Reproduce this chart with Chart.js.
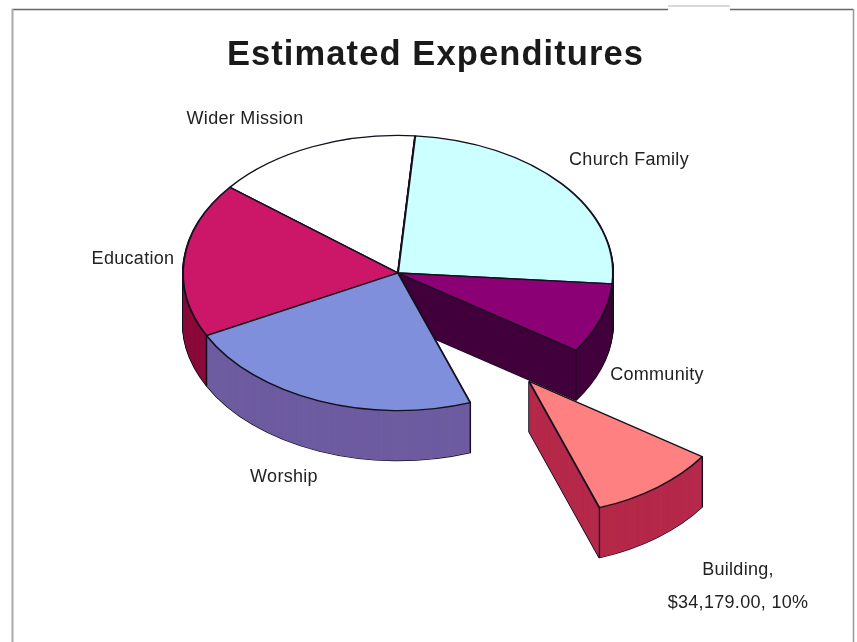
<!DOCTYPE html>
<html>
<head>
<meta charset="utf-8">
<style>html,body{margin:0;padding:0;background:#fff}canvas{display:block}</style>
<script src="https://cdn.jsdelivr.net/npm/chart.js@4"></script>
</head>
<body>
<canvas id="c" width="857" height="642"></canvas>
<script>
const titleText = "Estimated Expenditures";
const categories = ["Church Family", "Community", "Building", "Worship", "Education", "Wider Mission"];
const values = [85000, 28000, 34179, 78000, 62000, 53000];
const topColors = ["#CCFFFF", "#8B0074", "#FF8080", "#7F8FDB", "#CC1668", "#FFFFFF"];
const sideColors = ["#99BFBF", "#42003C", "#B5294A", "#6E5CA0", "#8A0A3A", "#BFBFBF"];
const labelLines = [["Church Family"], ["Community"], ["Building,", "$34,179.00, 10%"], ["Worship"], ["Education"], ["Wider Mission"]];
const explodedPx = [0, 0, 214, 0, 0, 0];
const sliceScale = [1, 1, 0.975, 1, 1, 1];

const CX = 398, CY = 273, TILT = 0.64, DEPTH = 50, OUTLINE = "#15101e";
const labelAnchors = [[629, 160], [657, 375], [738, 570], [284, 477], [133, 259], [245, 119]];

const pie3d = {
  id: "pie3d",
  beforeDraw(chart) { chart.ctx.letterSpacing = "1.1px"; },
  beforeDatasetsDraw(chart) {
    const ctx = chart.ctx;
    const arcs = chart.getDatasetMeta(0).data;
    const order = arcs.map((a, i) => i).sort((p, q) => {
      const mid = i => (arcs[i].startAngle + arcs[i].endAngle) / 2;
      return (Math.sin(mid(p)) * 215 + explodedPx[p]) - (Math.sin(mid(q)) * 215 + explodedPx[q]);
    });
    order.forEach(i => {
      const arc = arcs[i];
      const original = arc.options;
      const mid = (arc.startAngle + arc.endAngle) / 2;
      const s = sliceScale[i];
      const ex = Math.cos(mid) * explodedPx[i], ey = Math.sin(mid) * explodedPx[i];
      const place = d => {
        ctx.translate(CX, CY + d);
        ctx.scale(1, TILT);
        ctx.translate(ex, ey);
        ctx.scale(s, s);
        ctx.translate(-arc.x, -arc.y);
      };
      const layer = (d, fill, stroke, w) => {
        arc.options = Object.assign({}, original, { backgroundColor: fill, borderColor: stroke, borderWidth: w });
        ctx.save(); place(d); arc.draw(ctx); ctx.restore();
      };
      for (let d = DEPTH; d >= 1; d--) layer(d, sideColors[i], OUTLINE, 2);
      for (let d = DEPTH; d >= 0.5; d -= 0.5) layer(d, sideColors[i], sideColors[i], 0);
      [arc.startAngle, arc.endAngle].forEach(a => {
        if (Math.sin(a) <= 0) return;
        const x = CX + ex + Math.cos(a) * arc.outerRadius * s;
        const y = CY + (ey + Math.sin(a) * arc.outerRadius * s) * TILT;
        ctx.save();
        ctx.strokeStyle = OUTLINE; ctx.lineWidth = 1.3;
        ctx.beginPath(); ctx.moveTo(x, y); ctx.lineTo(x, y + DEPTH); ctx.stroke();
        ctx.restore();
      });
      layer(0, topColors[i], OUTLINE, 2);
      arc.options = original;
    });
    return false;
  },
  afterDraw(chart) {
    const ctx = chart.ctx;
    ctx.save();
    ctx.letterSpacing = "0.3px";
    ctx.font = "18px 'Liberation Sans'";
    ctx.fillStyle = "#222";
    ctx.textAlign = "center";
    ctx.textBaseline = "middle";
    labelLines.forEach((lines, i) => {
      lines.forEach((t, j) => ctx.fillText(t, labelAnchors[i][0], labelAnchors[i][1] + j * 33));
    });
    // frame
    ctx.lineWidth = 1.5;
    ctx.strokeStyle = "#666";
    ctx.beginPath(); ctx.moveTo(12, 9.5); ctx.lineTo(668, 9.5); ctx.moveTo(730, 9.5); ctx.lineTo(853, 9.5); ctx.stroke();
    ctx.strokeStyle = "#ccc"; ctx.beginPath(); ctx.moveTo(668, 6); ctx.lineTo(730, 6); ctx.stroke();
    ctx.strokeStyle = "#aaa"; ctx.lineWidth = 2; ctx.beginPath(); ctx.moveTo(12.5, 9); ctx.lineTo(12.5, 642); ctx.stroke();
    ctx.strokeStyle = "#999"; ctx.lineWidth = 1.5; ctx.beginPath(); ctx.moveTo(853.5, 9); ctx.lineTo(853.5, 642); ctx.stroke();
    ctx.restore();
  }
};

new Chart(document.getElementById("c"), {
  type: "pie",
  data: {
    labels: categories,
    datasets: [{ data: values, backgroundColor: topColors, borderColor: OUTLINE, borderWidth: 2 }]
  },
  options: {
    responsive: false,
    animation: false,
    rotation: 4.6,
    radius: 215,
    layout: { padding: { left: 14, top: 35 } },
    plugins: {
      legend: { display: false },
      tooltip: { enabled: false },
      title: {
        display: true,
        text: titleText,
        color: "#1a1a1a",
        font: { family: "'Liberation Sans'", size: 34.5, weight: "bold" },
        padding: 0
      }
    }
  },
  plugins: [pie3d]
});
</script>
</body>
</html>
